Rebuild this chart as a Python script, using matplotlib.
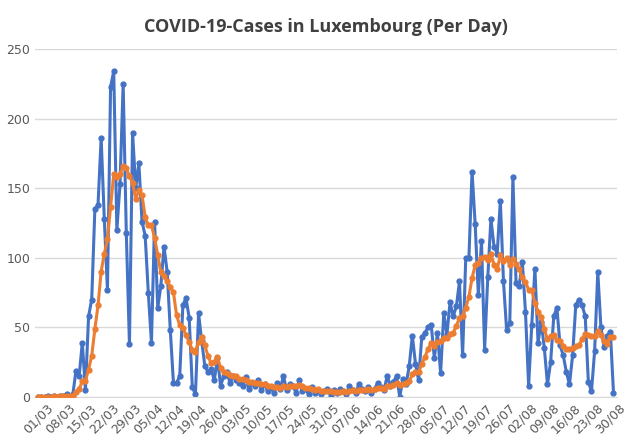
import numpy as np
import pandas as pd
import matplotlib
matplotlib.use('Agg')
import matplotlib.pyplot as plt

# daily new cases
wave1 = [0, 0, 0, 1, 0, 1, 0, 1, 1, 2, 0, 2,
         19, 15, 39, 5, 58, 70, 135, 138, 186, 128, 77, 223, 234, 120, 153, 225,
         118, 38, 190, 150, 168, 126, 116, 75, 39, 126, 64, 80, 108, 90, 48, 10,
         10, 15, 66, 71, 57, 7, 2, 60, 40, 22, 18]
spring = [20, 12, 28, 8, 15, 18, 10, 15, 12, 10, 8, 14, 6, 10, 8, 12,
          5, 9, 4, 7, 3, 10, 6, 15, 5, 9, 8, 3, 12, 4, 6, 2, 7, 3, 5, 2, 4,
          6, 1, 5, 3, 6, 4, 2, 8, 5, 3, 9, 6, 4, 7, 3, 6, 10, 7, 5, 15, 8, 11]
wave2 = [15, 0, 13, 9, 22, 44, 24, 12, 43, 46, 50, 52, 28, 46, 17, 60, 45, 68,
         58, 65, 83, 30, 100, 100, 162, 124, 73, 112, 34, 86, 128, 108, 103,
         141, 83, 48, 53, 158, 82, 80, 97, 61, 8, 52, 92, 39, 54, 35, 9, 25,
         58, 64, 37, 30, 18, 9, 30, 66, 70, 66, 58, 11, 4, 33, 90, 50, 36, 44,
         47, 3]

cases = pd.Series(wave1 + spring + wave2, dtype=float)
dates = pd.date_range('2020-03-01', periods=len(cases), freq='D')
avg = cases.rolling(7, min_periods=1).mean()

fig, ax = plt.subplots(figsize=(6.39, 4.46), dpi=100)
ax.plot(dates, cases, color='#4472C4', lw=2.2, marker='o', ms=3.5, zorder=2)
ax.plot(dates, avg, color='#ED7D31', lw=2.2, marker='o', ms=3.5, zorder=3)

ax.set_title('COVID-19-Cases in Luxembourg (Per Day)', fontsize=13,
             fontweight='bold', color='#404040', family='Open Sans', pad=12)
ax.set_ylim(0, 250)
ax.set_yticks(range(0, 251, 50))
ticks = pd.date_range('2020-03-01', dates[-1], freq='7D')
ax.set_xticks(ticks)
ax.set_xticklabels([d.strftime('%d/%m') for d in ticks], rotation=45)
ax.set_xlim(dates[0] - pd.Timedelta(days=1), dates[-1] + pd.Timedelta(days=1))
ax.grid(axis='y', color='#D9D9D9', lw=1)
ax.set_axisbelow(True)
for s in ['top', 'right', 'left']:
    ax.spines[s].set_visible(False)
ax.spines['bottom'].set_color('#D9D9D9')
ax.tick_params(length=0, labelsize=9, colors='#595959')
plt.subplots_adjust(left=0.055, right=0.965, top=0.89, bottom=0.11)
plt.savefig('out.png')
